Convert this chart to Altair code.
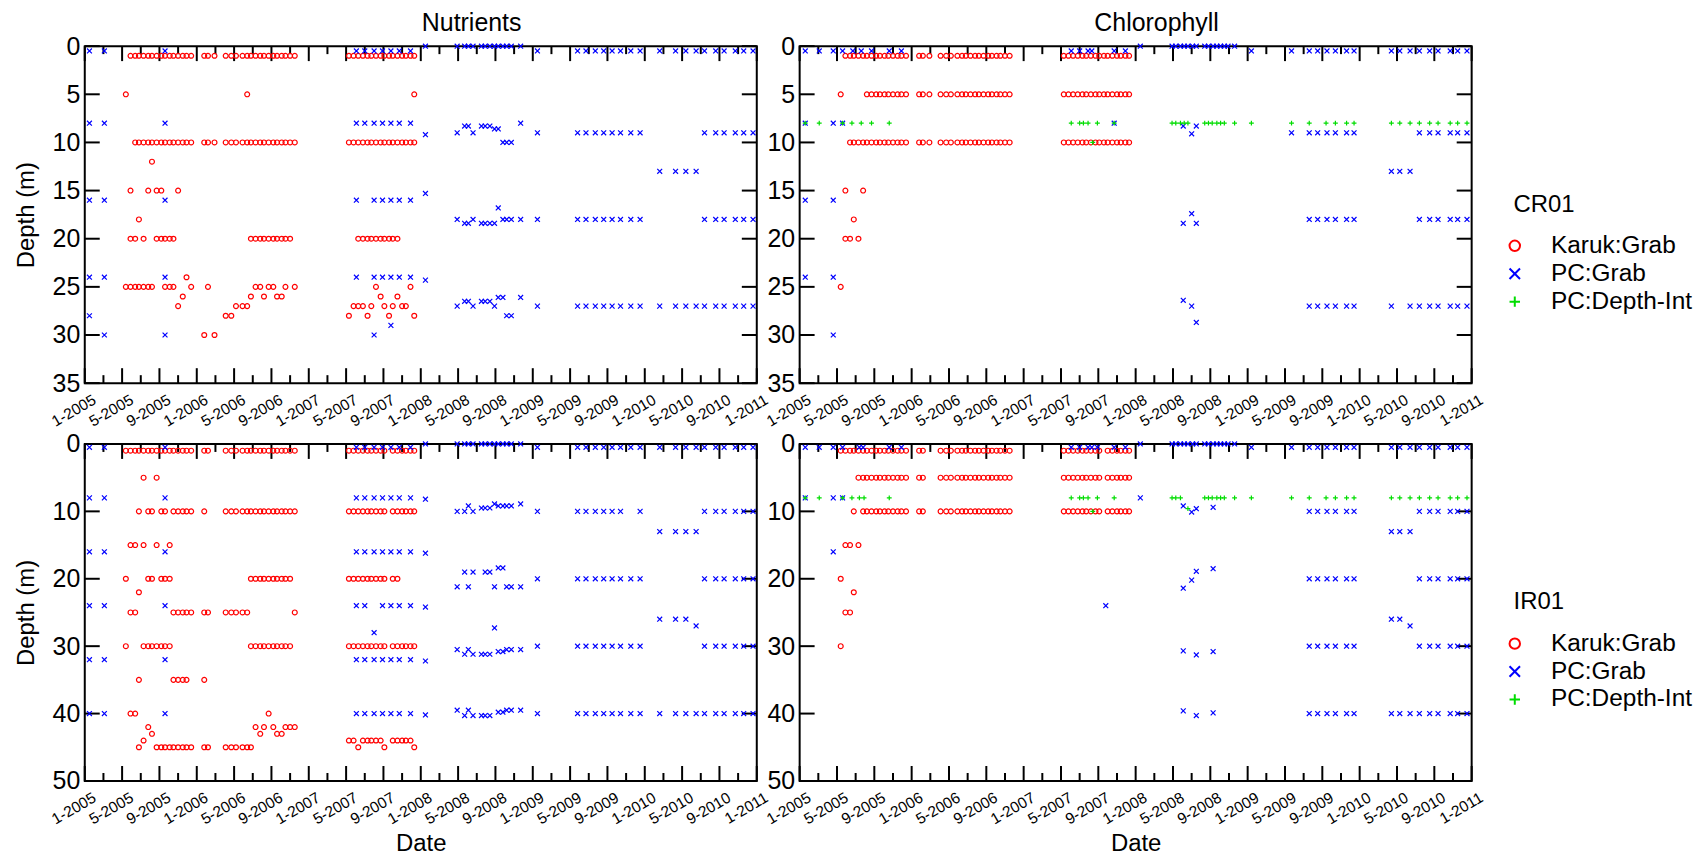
import altair as alt
import pandas as pd

FONT = "Liberation Sans"
W, H = 674, 338

SERIES = ["Karuk:Grab", "PC:Grab", "PC:Depth-Int"]
COLORS = ["#ff0000", "#0000ff", "#00dd00"]
SHAPES = ["circle", "M-1,-1L1,1M-1,1L1,-1", "M-1,0L1,0M0,-1L0,1"]

# Dates are months after 1 January 2005
# Karuk sampling dates
K05 = [4.4, 4.9, 5.4, 5.8, 6.3, 6.8, 7.2, 7.7, 8.2, 8.6, 9.1, 9.5, 10.0, 10.5, 10.9, 11.4]
K06 = [12.8, 13.2, 13.9, 15.1, 15.7, 16.2, 16.9, 17.4, 17.8, 18.3, 18.8, 19.2, 19.7,
       20.2, 20.6, 21.1, 21.5, 22.0, 22.5]
K07 = [28.3, 28.8, 29.3, 29.8, 30.3, 30.7, 31.2, 31.7, 32.1, 32.6, 33.0, 33.5, 34.0,
       34.4, 34.9, 35.3]
K06B = [12.8, 13.2, 15.1, 15.7, 16.2, 16.9, 17.4, 17.8, 18.3, 18.8, 19.2, 19.7,
        20.2, 20.6, 21.1, 21.5, 22.0, 22.5]
K07B = [28.3, 28.8, 29.3, 29.8, 30.3, 30.7, 31.2, 31.7, 32.1, 33.0, 33.5, 34.0,
        34.4, 34.9, 35.3]

# PC sampling dates
P05 = [0.5, 2.1, 8.6]
P07 = [29.1, 30.0, 31.0, 31.9, 32.8, 33.7, 34.9]
P08 = [39.9, 40.7, 41.1, 41.6, 42.5, 42.9, 43.4, 43.9, 44.3, 44.8, 45.2, 45.7, 46.7]
P09N = [52.8, 53.7, 54.7, 55.6, 56.5, 57.4, 58.5, 59.5]
P10AN = [61.6, 63.3, 64.4, 65.5]
P10BN = [66.4, 67.6, 68.5, 69.7, 70.6, 71.6]
P08C = [39.9, 40.3, 40.8, 41.2, 41.6, 42.1, 42.5, 43.4, 43.8, 44.3, 44.7, 45.1, 45.5, 45.9, 46.6]
P09C = [54.6, 55.5, 56.5, 57.4, 58.6, 59.4]
P10AC = [63.4, 64.3, 65.4]
P10BC = [66.4, 67.5, 68.4, 69.7, 70.5, 71.5]

# (depth m, dates) groups per panel and series
CR_NUT_KARUK = [
    (1, K05[1:] + K06 + K07),
    (5, [4.4, 17.4, 35.3]),
    (10, K05[2:] + K06 + K07),
    (12, [7.2]),
    (15, [4.9, 6.8, 7.7, 8.2, 10.0]),
    (18, [5.8]),
    (20, [4.9, 5.4, 6.3, 7.7, 8.2, 8.6, 9.1, 9.5, 17.8, 18.3, 18.8, 19.2, 19.7, 20.2,
          20.6, 21.1, 21.5, 22.0, 29.3, 29.8, 30.3, 30.7, 31.2, 31.7, 32.1, 32.6, 33.0, 33.5]),
    (24, [10.9]),
    (25, [4.4, 4.9, 5.4, 5.8, 6.3, 6.8, 7.2, 8.6, 9.1, 9.5, 11.4, 13.2, 18.3, 18.8, 19.7,
          20.2, 21.5, 22.5, 31.2, 34.9]),
    (26, [10.5, 17.8, 19.2, 20.6, 21.1, 31.7, 33.5]),
    (27, [10.0, 16.2, 16.9, 17.4, 28.8, 29.3, 29.8, 30.7, 32.1, 33.0, 34.0, 34.4]),
    (28, [15.1, 15.7, 28.3, 30.3, 32.6, 35.3]),
    (30, [12.8, 13.9]),
]
CR_NUT_PC = [
    (0.5, P05 + P07 + [48.5] + P09N + P10AN + P10BN),
    (0, [36.5] + P08),
    (8, P05 + P07 + [46.7]),
    (16, P05 + [29.1, 31.0, 31.9, 32.8, 33.7, 34.9]),
    (24, P05 + [29.1, 31.0, 31.9, 32.8, 33.7, 34.9]),
    (28, [0.5]),
    (30, [2.1, 8.6, 31.0]),
    (29, [32.8]),
    (9.2, [36.5]), (15.3, [36.5]), (24.3, [36.5]),
    (9, [39.9, 41.6, 48.5] + P09N + P10BN),
    (8.3, [40.7, 41.1, 42.5, 42.9, 43.4]),
    (8.6, [43.9, 44.3]),
    (10, [44.8, 45.2, 45.7]),
    (18, [39.9, 41.6, 44.8, 45.2, 45.7, 46.7, 48.5] + P09N + P10BN),
    (18.4, [40.7, 41.1, 42.5, 42.9, 43.4, 43.9]),
    (16.8, [44.3]),
    (27, [39.9, 41.6, 43.9, 48.5] + P09N + P10AN + P10BN),
    (26.5, [40.7, 41.1, 42.5, 42.9, 43.4]),
    (26.1, [44.3, 44.8, 46.7]),
    (28, [45.2, 45.7]),
    (13, P10AN),
]
CR_CHL_KARUK = [
    (1, K05[1:] + K06 + K07),
    (5, [4.4] + K05[6:] + K06 + K07),
    (10, K05[2:] + K06 + K07),
    (15, [4.9, 6.8]),
    (18, [5.8]),
    (20, [4.9, 5.4, 6.3]),
    (25, [4.4]),
]
CR_CHL_PC = [
    (0.5, [0.6, 2.1, 3.6, 4.6, 5.7, 6.6, 7.7, 9.6, 10.9, 29.1, 30.0, 30.9, 31.3, 33.7,
           34.9, 48.4, 52.7] + P09C + P10AC + P10BC),
    (0, [36.5] + P08C),
    (8, [0.6, 3.6, 4.6, 33.7]),
    (16, [0.6, 3.6]), (24, [0.6, 3.6]), (30, [3.6]),
    (8.3, [41.1, 42.5]), (9.1, [42.0]),
    (18.4, [41.1, 42.5]), (17.4, [42.0]),
    (26.4, [41.1]), (28.7, [42.5]),
    (9, [52.7] + P09C + P10BC),
    (18, P09C + P10BC),
    (27, [42.0] + P09C + [63.4, 65.4] + P10BC),
    (13, P10AC),
]
CR_CHL_DI = [
    (8, [0.6, 2.1, 4.6, 5.6, 6.6, 7.7, 9.6, 29.1, 30.0, 30.4, 30.9, 31.9, 33.7, 39.9,
         40.3, 40.8, 41.2, 41.6, 43.4, 43.8, 44.2, 44.7, 45.1, 45.5, 46.6, 48.4, 52.7,
         54.6, 56.4, 57.4, 58.6, 59.4] + P10AC + P10BC),
    (10, [31.4]),
]
IR_NUT_KARUK = [
    (1, K05 + K06B + K07B),
    (5, [6.3, 7.7]),
    (10, [5.8, 6.8, 7.2, 8.2, 8.6, 9.5, 10.0, 10.5, 10.9, 11.4, 12.8] + K06B[2:] + K07B),
    (15, [4.9, 5.4, 6.3, 7.7, 9.1]),
    (20, [4.4, 6.8, 7.2, 8.2, 8.6, 9.1, 17.8, 18.3, 18.8, 19.2, 19.7, 20.2, 20.6, 21.1,
          21.5, 22.0, 28.3, 28.8, 29.3, 29.8, 30.3, 30.7, 31.2, 31.7, 32.1, 33.0, 33.5]),
    (22, [5.8]),
    (25, [4.9, 5.4, 9.5, 10.0, 10.5, 10.9, 11.4, 12.8, 13.2, 15.1, 15.7, 16.2, 16.9, 17.4, 22.5]),
    (30, [4.4, 6.3, 6.8, 7.2, 7.7, 8.2, 8.6, 9.1, 17.8, 18.3, 18.8, 19.2, 19.7, 20.2,
          20.6, 21.1, 21.5, 22.0] + K07B),
    (35, [5.8, 9.5, 10.0, 10.5, 10.9, 12.8]),
    (40, [4.9, 5.4, 19.7]),
    (42, [6.8, 18.3, 19.2, 20.2, 21.5, 22.0, 22.5]),
    (43, [7.2, 18.8, 20.6, 21.1]),
    (44, [6.3, 28.3, 28.8, 29.8, 30.3, 30.7, 31.2, 31.7, 33.0, 33.5, 34.0, 34.4, 34.9]),
    (45, [5.8, 7.7, 8.2, 8.6, 9.1, 9.5, 10.0, 10.5, 10.9, 11.4, 12.8, 13.2, 15.1, 15.7,
          16.2, 16.9, 17.4, 17.8, 29.3, 32.1, 35.3]),
]
IR_NUT_PC = [
    (0.5, P05 + P07 + [48.5] + P09N + P10AN + P10BN),
    (0, [36.5] + P08),
    (8, P05 + P07), (16, P05 + P07),
    (24, P05 + [29.1, 30.0, 31.9, 32.8, 33.7, 34.9]),
    (28, [31.0]), (32, P05 + P07), (40, P05 + P07),
    (8.2, [36.5]), (16.2, [36.5]), (24.2, [36.5]), (32.2, [36.5]), (40.2, [36.5]),
    (10, [39.9, 40.7, 41.6, 48.5, 52.8, 53.7, 54.7, 55.6, 56.5, 57.4, 59.5] + P10BN),
    (9.2, [41.1, 44.3, 44.8, 45.2, 45.7]),
    (9.5, [42.5, 42.9, 43.4]),
    (8.9, [43.9, 46.7]),
    (20, [48.5] + P09N + P10BN),
    (21.2, [39.9, 41.1, 43.9, 45.2, 45.7, 46.7]),
    (19.0, [40.7, 41.6, 42.9, 43.4]),
    (18.4, [44.3, 44.8]),
    (30, [48.5] + P09N + P10BN),
    (30.5, [39.9, 41.1, 45.2, 45.7, 46.7]),
    (31.2, [40.7, 41.6, 42.5, 42.9, 43.4]),
    (27.3, [43.9]),
    (30.8, [44.3, 44.8]),
    (40, [48.5] + P09N + P10AN + P10BN),
    (39.5, [39.9, 41.1, 45.2, 45.7, 46.7]),
    (40.3, [40.7, 41.6, 42.5, 42.9, 43.4]),
    (39.8, [44.3, 44.8]),
    (13, P10AN),
    (26, [61.6, 63.3, 64.4]),
    (27, [65.5]),
]
IR_CHL_KARUK = [
    (1, K05 + K06B + K07B),
    (5, K05[4:] + K06B + K07B),
    (10, [5.8] + K05[5:] + K06B + K07B),
    (15, [4.9, 5.4, 6.3]),
    (20, [4.4]), (22, [5.8]), (25, [4.9, 5.4]), (30, [4.4]),
]
IR_CHL_PC = [
    (0.5, [0.6, 2.1, 3.6, 4.6, 6.4, 6.8, 9.6, 10.9, 29.1, 30.0, 30.9, 31.3, 31.9, 33.7,
           34.9, 48.4, 52.7] + P09C + P10AC + P10BC),
    (0, [36.5] + P08C),
    (8, [0.6, 3.6, 4.6, 36.5]), (16, [3.6]), (24, [32.8]),
    (9.2, [41.1]), (10.1, [42.0]), (9.6, [42.5]), (9.4, [44.3]),
    (21.4, [41.1]), (20.2, [42.0]), (18.9, [42.5]), (18.5, [44.3]),
    (30.7, [41.1]), (31.3, [42.5]), (30.8, [44.3]),
    (39.6, [41.1]), (40.3, [42.5]), (39.9, [44.3]),
    (10, P09C + P10BC), (20, P09C + P10BC), (30, P09C + P10BC),
    (40, P09C + P10AC + P10BC),
    (13, P10AC), (26, [63.4, 64.3]), (27, [65.4]),
]
IR_CHL_DI = [
    (8, [0.6, 2.1, 4.6, 5.6, 6.4, 6.9, 9.6, 29.1, 30.0, 30.4, 30.9, 31.9, 33.7, 39.9,
         40.3, 40.8, 43.4, 43.8, 44.2, 44.7, 45.1, 45.5, 46.6, 48.4, 52.7, 54.6, 56.4,
         57.4, 58.6, 59.4] + P10AC + P10BC),
    (9.6, [41.6]),
    (10, [31.4]),
]

records = []


def add(station, param, series, groups):
    for depth, months in groups:
        for m in months:
            records.append({"station": station, "param": param, "series": series,
                            "month": m, "depth": depth})


add("CR01", "Nutrients", "Karuk:Grab", CR_NUT_KARUK)
add("CR01", "Nutrients", "PC:Grab", CR_NUT_PC)
add("CR01", "Chlorophyll", "Karuk:Grab", CR_CHL_KARUK)
add("CR01", "Chlorophyll", "PC:Grab", CR_CHL_PC)
add("CR01", "Chlorophyll", "PC:Depth-Int", CR_CHL_DI)
add("IR01", "Nutrients", "Karuk:Grab", IR_NUT_KARUK)
add("IR01", "Nutrients", "PC:Grab", IR_NUT_PC)
add("IR01", "Chlorophyll", "Karuk:Grab", IR_CHL_KARUK)
add("IR01", "Chlorophyll", "PC:Grab", IR_CHL_PC)
add("IR01", "Chlorophyll", "PC:Depth-Int", IR_CHL_DI)
df = pd.DataFrame(records)

XT_LONG = list(range(0, 73, 4))
XT_SHORT = list(range(2, 72, 4))
LEGEND_POS = {"CR01": (1433, 147), "IR01": (1433, 147)}


def panel(station, param, ymax, ystep, left, bottom, title, title_dx):
    d = df[(df.station == station) & (df.param == param)]
    yvals = list(range(0, ymax + 1, ystep))
    xscale = alt.Scale(domain=[0, 72], nice=False, zero=False)
    yscale = alt.Scale(domain=[0, ymax], reverse=True, nice=False, zero=False)
    xaxis = alt.Axis(values=XT_LONG,
                     labelExpr="(datum.value % 12 + 1) + '-' + (2005 + floor(datum.value / 12))",
                     ticks=False, domain=False, grid=False, labelAngle=330,
                     labelAlign="right", labelBaseline="top", labelFontSize=15.5,
                     labelFont=FONT, labelColor="black", labelPadding=9, labelOffset=6,
                     labelFlush=False, labelOverlap=False, labelBound=False,
                     title="Date" if bottom else "", titleFont=FONT, titleFontSize=24,
                     titleFontWeight="normal", titleColor="black", titlePadding=4)
    yaxis = alt.Axis(values=yvals, ticks=False, domain=False, grid=False,
                     labelFontSize=25, labelFont=FONT, labelColor="black",
                     labelPadding=5, labelFlush=False, labelOverlap=False,
                     title="Depth (m)" if left else "", titleFont=FONT, titleFontSize=24,
                     titleFontWeight="normal", titleColor="black", titlePadding=14)
    lx, ly = LEGEND_POS[station]
    legend = alt.Legend(orient="none", legendX=lx, legendY=ly, title=station,
                        titleFont=FONT, titleFontSize=24, titleFontWeight="normal",
                        titleColor="black", titlePadding=17, labelFont=FONT,
                        labelFontSize=24.5, labelColor="black", labelOffset=24,
                        symbolOffset=-11, symbolSize=110, symbolStrokeWidth=2,
                        rowPadding=3)
    rule = dict(color="black", strokeWidth=2)
    xt_long = pd.DataFrame({"month": XT_LONG})
    xt_short = pd.DataFrame({"month": XT_SHORT})
    yt = pd.DataFrame({"depth": yvals})
    ex = alt.X("month:Q", scale=xscale, axis=xaxis)
    ey = alt.Y("depth:Q", scale=yscale, axis=yaxis)
    layers = [
        alt.Chart(xt_long).mark_rule(**rule).encode(x=ex, y=alt.value(H - 15), y2=alt.value(H)),
        alt.Chart(xt_long).mark_rule(**rule).encode(x=ex, y=alt.value(0), y2=alt.value(15)),
        alt.Chart(xt_short).mark_rule(**rule).encode(x=ex, y=alt.value(H - 8), y2=alt.value(H)),
        alt.Chart(xt_short).mark_rule(**rule).encode(x=ex, y=alt.value(0), y2=alt.value(8)),
        alt.Chart(yt).mark_rule(**rule).encode(y=ey, x=alt.value(0), x2=alt.value(15)),
        alt.Chart(yt).mark_rule(**rule).encode(y=ey, x=alt.value(W - 15), x2=alt.value(W)),
        alt.Chart(d).mark_point(filled=False, size=24, strokeWidth=1.2, opacity=1).encode(
            x=ex, y=ey,
            color=alt.Color("series:N", scale=alt.Scale(domain=SERIES, range=COLORS),
                            legend=legend, title=station),
            shape=alt.Shape("series:N", scale=alt.Scale(domain=SERIES, range=SHAPES),
                            legend=legend, title=station),
        ),
    ]
    ch = alt.layer(*layers).properties(width=W, height=H)
    if title:
        ch = ch.properties(title=alt.TitleParams(title, fontSize=25, font=FONT,
                                                 fontWeight="normal", color="black",
                                                 anchor="middle", dx=title_dx, offset=-2,
                                                 frame="group"))
    return ch


row1 = alt.hconcat(
    panel("CR01", "Nutrients", 35, 5, True, False, "Nutrients", 51),
    panel("CR01", "Chlorophyll", 35, 5, False, False, "Chlorophyll", 21),
    spacing=43, bounds="flush",
)
row2 = alt.hconcat(
    panel("IR01", "Nutrients", 50, 10, True, True, "", 0),
    panel("IR01", "Chlorophyll", 50, 10, False, True, "", 0),
    spacing=43, bounds="flush",
)
chart = alt.vconcat(row1, row2, spacing=0).resolve_scale(
    color="independent", shape="independent"
).properties(
    padding={"left": 5, "top": 1, "right": 0, "bottom": 0}
).configure_view(stroke="black", strokeWidth=2)

chart.save("out.html", embed_options={"renderer": "svg", "actions": False})
